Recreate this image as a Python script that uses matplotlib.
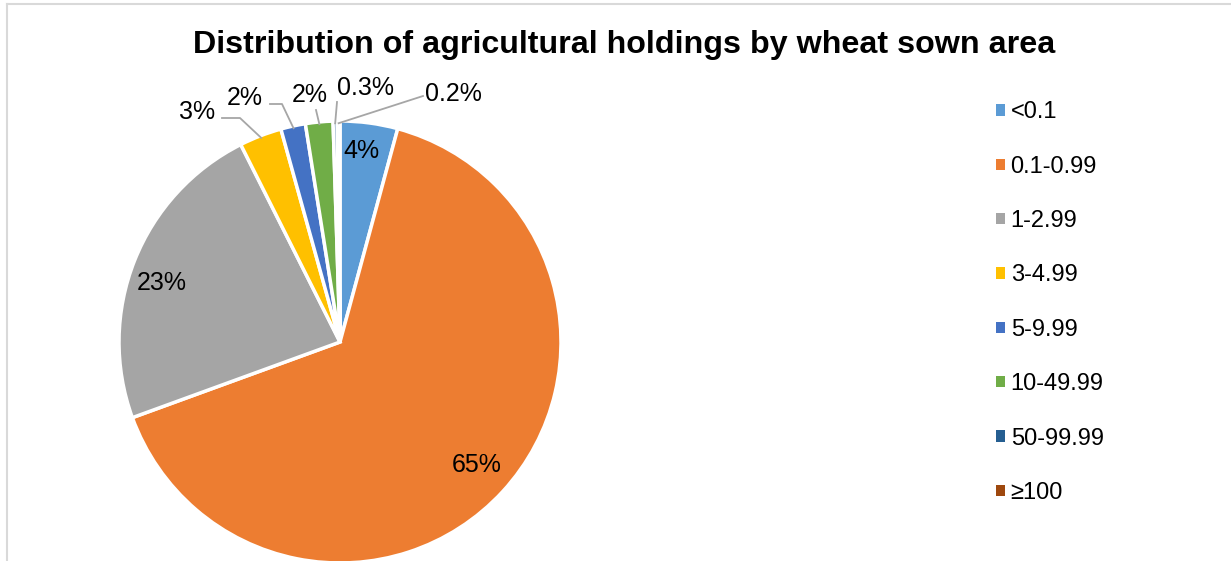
import matplotlib
matplotlib.use('Agg')
import numpy as np
import matplotlib.pyplot as plt
from matplotlib.lines import Line2D
from matplotlib.patches import Patch

plt.rcParams['font.family'] = ['Liberation Sans', 'DejaVu Sans']

# Data
categories = ['<0.1', '0.1-0.99', '1-2.99', '3-4.99', '5-9.99',
              '10-49.99', '50-99.99', '\u2265100']
shares = [4.2, 65.1, 23.1, 3.1, 1.8, 2.0, 0.3, 0.2]
labels = ['4%', '65%', '23%', '3%', '2%', '2%', '0.3%', '0.2%']
colors = ['#5B9BD5', '#ED7D31', '#A5A5A5', '#FFC000', '#4472C4',
          '#70AD47', '#255E91', '#9E480E']

W, H = 1231, 561
fig = plt.figure(figsize=(W / 100, H / 100), dpi=100)

# pie centre / radius in pixels
cx, cy, r = 340, 342, 221
ax = fig.add_axes([(cx - r) / W, (H - cy - r) / H, 2 * r / W, 2 * r / H])

wedges, _ = ax.pie(shares, colors=colors, startangle=90, counterclock=False,
                   radius=1, wedgeprops=dict(edgecolor='white', linewidth=2.5))
ax.set_xlim(-1, 1)
ax.set_ylim(-1, 1)
ax.axis('off')


def px(x, y):
    return (x - cx) / r, (cy - y) / r


lab_fs = 18
# inside labels (pixel positions)
inside = {0: (361, 151), 1: (477, 465), 2: (162, 283)}
for i, (x, y) in inside.items():
    ax.text(*px(x, y), labels[i], ha='center', va='center', fontsize=lab_fs,
            color='black')

# outside labels with leader lines: label pos, line path
outside = {
    3: ((197, 112), [(222, 118), (240, 118)]),
    4: ((245, 98), [(270, 104), (282, 104)]),
    5: ((310, 95), [(316, 110)]),
    6: ((366, 88), [(337, 102)]),
    7: ((453, 94), [(423, 96)]),
}
for i, ((x, y), path) in outside.items():
    ax.text(*px(x, y), labels[i], ha='center', va='center', fontsize=lab_fs,
            color='black')
    w = wedges[i]
    mid = np.deg2rad((w.theta1 + w.theta2) / 2)
    tip = (0.99 * np.cos(mid), 0.99 * np.sin(mid))
    pts = [px(*p) for p in path] + [tip]
    xs, ys = zip(*pts)
    ax.add_line(Line2D(xs, ys, color='#A6A6A6', linewidth=1.3,
                       clip_on=False))

fig.text(624.5 / W, 1 - 45 / H, 'Distribution of agricultural holdings by wheat sown area',
         ha='center', va='center', fontsize=23.2, fontweight='bold')

handles = [Patch(facecolor=c, edgecolor='none') for c in colors]
fig.legend(handles, categories, loc='upper left',
           bbox_to_anchor=(987 / W, 1 - 92 / H), frameon=False,
           fontsize=17, handlelength=0.35, handleheight=0.35,
           handletextpad=0.25, labelspacing=1.37, borderaxespad=0)

# chart border
fig.add_artist(Line2D([7 / W, 7 / W], [0, 1 - 3.5 / H], color='#D9D9D9',
                      linewidth=1.5, transform=fig.transFigure))
fig.add_artist(Line2D([7 / W, 1], [1 - 3.5 / H, 1 - 3.5 / H], color='#D9D9D9',
                      linewidth=1.5, transform=fig.transFigure))

fig.savefig('out.png', dpi=100)
